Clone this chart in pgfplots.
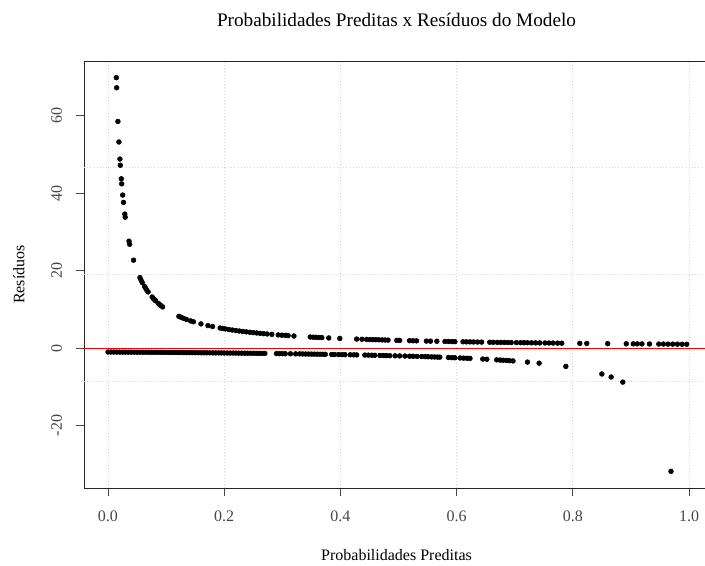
\documentclass[border=0pt]{standalone}
\usepackage{fontspec}
\setmainfont{Liberation Serif}
\usepackage{pgfplots}
\pgfplotsset{compat=1.18}
\usepackage{pgfplotstable}
\definecolor{gridgray}{RGB}{211,211,211}
\definecolor{axgray}{RGB}{70,70,70}

% observed y = 1 : predicted probability and residual
\pgfplotstableread{
p r
0.0143 69.8
0.0149 67.2
0.0171 58.5
0.0188 53.2
0.0205 48.8
0.0212 47.2
0.0229 43.7
0.0236 42.4
0.0253 39.5
0.0266 37.6
0.0289 34.6
0.0296 33.8
0.0362 27.6
0.0373 26.8
0.0440 22.7
0.0550 18.2
0.0570 17.5
0.0590 16.9
0.0630 15.9
0.0650 15.4
0.0670 14.9
0.0690 14.5
0.0760 13.2
0.0780 12.8
0.0800 12.5
0.0820 12.2
0.0870 11.5
0.0890 11.2
0.0910 10.99
0.0940 10.64
0.1220 8.20
0.1260 7.94
0.1300 7.69
0.1350 7.41
0.1420 7.04
0.1470 6.80
0.1600 6.25
0.1720 5.81
0.1800 5.56
0.1930 5.18
0.1980 5.05
0.2020 4.95
0.2080 4.81
0.2140 4.67
0.2200 4.55
0.2260 4.42
0.2320 4.31
0.2380 4.20
0.2440 4.10
0.2500 4.00
0.2560 3.91
0.2620 3.82
0.2680 3.73
0.2740 3.65
0.2820 3.55
0.2930 3.41
0.2990 3.34
0.3050 3.28
0.3100 3.23
0.3200 3.13
0.3480 2.87
0.3530 2.83
0.3580 2.79
0.3630 2.75
0.3680 2.72
0.3800 2.63
0.3990 2.51
0.4280 2.34
0.4370 2.29
0.4450 2.25
0.4510 2.22
0.4560 2.19
0.4610 2.17
0.4660 2.15
0.4720 2.12
0.4770 2.10
0.4820 2.07
0.4970 2.01
0.5020 1.99
0.5190 1.93
0.5250 1.90
0.5310 1.88
0.5480 1.82
0.5550 1.80
0.5660 1.77
0.5800 1.72
0.5860 1.71
0.5920 1.69
0.5970 1.68
0.6110 1.64
0.6170 1.62
0.6230 1.61
0.6290 1.59
0.6360 1.57
0.6430 1.56
0.6570 1.52
0.6630 1.51
0.6700 1.49
0.6760 1.48
0.6820 1.47
0.6880 1.45
0.6940 1.44
0.7030 1.42
0.7100 1.41
0.7160 1.40
0.7220 1.39
0.7290 1.37
0.7360 1.36
0.7430 1.35
0.7520 1.33
0.7590 1.32
0.7660 1.31
0.7740 1.29
0.7810 1.28
0.8120 1.23
0.8240 1.21
0.8600 1.16
0.8920 1.12
0.9040 1.11
0.9110 1.10
0.9190 1.09
0.9320 1.07
0.9480 1.05
0.9560 1.05
0.9640 1.04
0.9720 1.03
0.9800 1.02
0.9880 1.01
0.9960 1.00
}\upperdata

% observed y = 0 : predicted probability and residual
\pgfplotstableread{
p r
0.000 -1.00
0.005 -1.01
0.010 -1.01
0.015 -1.02
0.020 -1.02
0.025 -1.03
0.030 -1.03
0.035 -1.04
0.040 -1.04
0.045 -1.05
0.050 -1.05
0.055 -1.06
0.060 -1.06
0.065 -1.07
0.070 -1.08
0.075 -1.08
0.080 -1.09
0.085 -1.09
0.090 -1.10
0.095 -1.10
0.100 -1.11
0.105 -1.12
0.110 -1.12
0.115 -1.13
0.120 -1.14
0.125 -1.14
0.130 -1.15
0.135 -1.16
0.140 -1.16
0.145 -1.17
0.150 -1.18
0.155 -1.18
0.160 -1.19
0.165 -1.20
0.170 -1.20
0.175 -1.21
0.180 -1.22
0.185 -1.23
0.190 -1.23
0.195 -1.24
0.200 -1.25
0.205 -1.26
0.210 -1.27
0.215 -1.27
0.220 -1.28
0.225 -1.29
0.230 -1.30
0.235 -1.31
0.240 -1.32
0.245 -1.32
0.250 -1.33
0.255 -1.34
0.260 -1.35
0.265 -1.36
0.270 -1.37
0.290 -1.41
0.295 -1.42
0.300 -1.43
0.305 -1.44
0.314 -1.46
0.323 -1.48
0.330 -1.49
0.335 -1.50
0.340 -1.52
0.345 -1.53
0.350 -1.54
0.355 -1.55
0.360 -1.56
0.365 -1.57
0.370 -1.59
0.374 -1.60
0.385 -1.63
0.390 -1.64
0.397 -1.66
0.403 -1.68
0.408 -1.69
0.417 -1.72
0.423 -1.73
0.428 -1.75
0.442 -1.79
0.448 -1.81
0.454 -1.83
0.459 -1.85
0.468 -1.88
0.474 -1.90
0.479 -1.92
0.485 -1.94
0.494 -1.98
0.502 -2.01
0.511 -2.04
0.519 -2.08
0.525 -2.11
0.532 -2.14
0.540 -2.17
0.546 -2.20
0.551 -2.23
0.557 -2.26
0.562 -2.28
0.567 -2.31
0.571 -2.33
0.586 -2.42
0.592 -2.45
0.597 -2.48
0.606 -2.54
0.612 -2.58
0.618 -2.62
0.623 -2.65
0.645 -2.82
0.652 -2.87
0.669 -3.02
0.675 -3.08
0.680 -3.13
0.686 -3.18
0.691 -3.24
0.697 -3.30
0.722 -3.60
0.742 -3.88
0.788 -4.72
0.850 -6.67
0.866 -7.46
0.886 -8.77
0.969 -31.8
}\lowerdata

\begin{document}
\begin{tikzpicture}
\begin{axis}[
  name=ax, at={(0,0)}, anchor=south west,
  scale only axis, width=468.75pt, height=320.25pt,
  xmin=-0.0413, xmax=1.0344, ymin=-36.1, ymax=74.1,
  xtick={0,0.2,0.4,0.6,0.8,1},
  xticklabels={0.0,0.2,0.4,0.6,0.8,1.0},
  ytick={-20,0,20,40,60},
  yticklabels={-20,0,20,40,60},
  xtick pos=bottom, ytick pos=left,
  tick align=outside, major tick length=6pt,
  tick style={axgray, line width=0.6pt},
  xmajorgrids,
  grid style={gridgray, dotted, line width=0.6pt},
  extra y ticks={-8.55,19.0,46.55},
  extra y tick labels={},
  extra y tick style={grid=major, major tick length=0pt},
  axis line style={black!85, line width=0.7pt},
  ticklabel style={font=\fontsize{12}{14}\selectfont, text=axgray},
  xticklabel style={anchor=center},
  xticklabel shift=15.5pt,
  yticklabel style={anchor=center, rotate=90},
  yticklabel shift=14.5pt,
  title={Probabilidades Preditas x Resíduos do Modelo},
  title style={at={(rel axis cs:0.5,1.077)}, anchor=center, yshift=0pt, font=\fontsize{14.4}{17}\selectfont},
  xlabel={Probabilidades Preditas},
  xlabel style={at={(rel axis cs:0.5,-0.1569)}, anchor=center, font=\fontsize{12}{14}\selectfont},
  ylabel={Resíduos},
  ylabel style={at={(rel axis cs:-0.104,0.5)}, anchor=center, font=\fontsize{12}{14}\selectfont},
]
\addplot[only marks, mark=*, mark size=1.8pt, black] table[x=p, y=r] {\lowerdata};
\addplot[only marks, mark=*, mark size=1.8pt, black] table[x=p, y=r] {\upperdata};
\addplot[red, line width=0.8pt, forget plot] coordinates {(-0.0413,0) (1.0344,0)};
\end{axis}
\pgfresetboundingbox
\path[use as bounding box] (-63pt,-57.75pt) rectangle (465.75pt,366pt);
\end{tikzpicture}
\end{document}
